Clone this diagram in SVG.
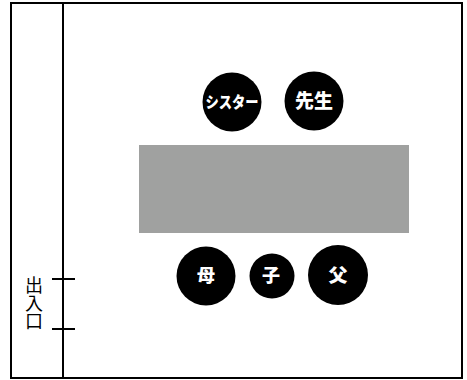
<svg xmlns="http://www.w3.org/2000/svg" width="467" height="380" viewBox="0 0 467 380">
<style>
.line{stroke:#000;stroke-width:2;fill:none}
.node circle{fill:#000}
.node text{fill:#fff;font-family:"Noto Sans CJK JP","Noto Sans CJK SC",sans-serif;font-weight:900;text-anchor:middle;dominant-baseline:central}
.lbl{fill:#000;font-family:"Noto Sans CJK JP","Noto Sans CJK SC",sans-serif;font-size:18px;writing-mode:vertical-rl;text-anchor:start}
</style>
<rect width="467" height="380" fill="#fff"/>
<g id="frame">
<rect x="11" y="3" width="451" height="375" class="line"/>
<line x1="63" y1="3" x2="63" y2="378" class="line"/>
</g>
<rect id="table" x="139" y="145" width="270" height="88" fill="#a0a1a0"/>
<g id="entrance">
<line x1="52" y1="279" x2="75" y2="279" class="line"/>
<line x1="52" y1="329" x2="75" y2="329" class="line"/>
<text class="lbl" x="34" y="276">出入口</text>
</g>
<g id="sister" class="node"><circle cx="232" cy="102" r="29.5"/><text x="232" y="101" font-size="16" textLength="53" lengthAdjust="spacingAndGlyphs">シスター</text></g>
<g id="teacher" class="node"><circle cx="314" cy="101" r="29.5"/><text x="314" y="99" font-size="19">先生</text></g>
<g id="mother" class="node"><circle cx="206" cy="276" r="29.5"/><text x="206" y="274" font-size="18">母</text></g>
<g id="child" class="node"><circle cx="272" cy="276" r="22.5"/><text x="271" y="274" font-size="18">子</text></g>
<g id="father" class="node"><circle cx="338" cy="275" r="30"/><text x="338" y="273" font-size="19">父</text></g>
<g id="connectors"/>
</svg>
